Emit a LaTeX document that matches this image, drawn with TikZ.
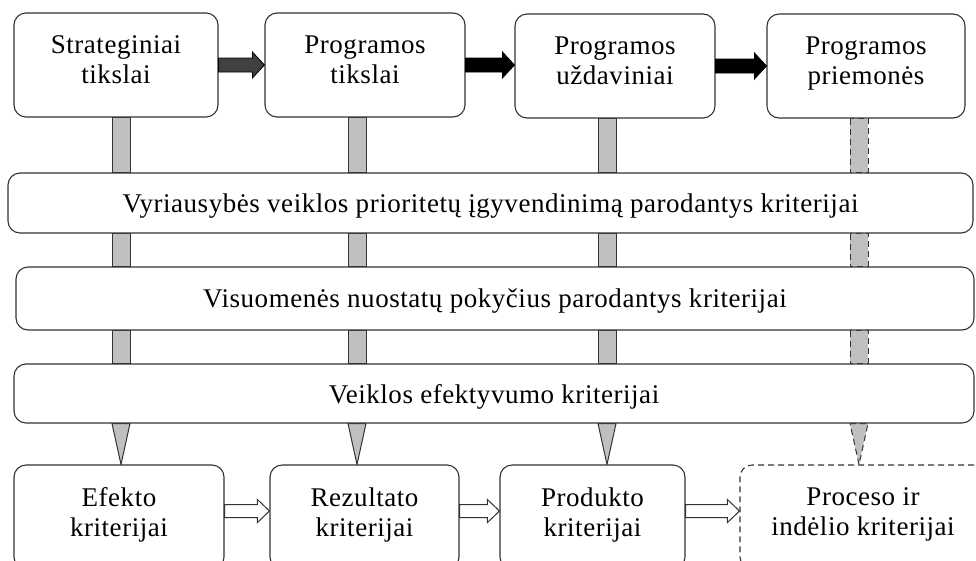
\documentclass[tikz,border=0pt]{standalone}
\usepackage{fontspec}
\setmainfont{Liberation Serif}[LetterSpace=2]
\usepackage{tikz}
\usetikzlibrary{positioning,calc,backgrounds}
\definecolor{barcolor}{RGB}{192,192,192}
\definecolor{edgecolor}{RGB}{51,51,51}

% block arrow: style, start point, target node, half shaft, half head
\newcommand{\blockarrow}[5]{%
    \coordinate (s) at (#2);
    \coordinate (e) at (#3.west |- s);
    \draw[#1] ($(s)+(0,#4)$) -- ($(e)+(-12,#4)$) -- ($(e)+(-12,#5)$) -- (e)
        -- ($(e)+(-12,-#5)$) -- ($(e)+(-12,-#4)$) -- ($(s)+(0,-#4)$) -- cycle;
}

\begin{document}
\begin{tikzpicture}[
    x=1pt, y=-1pt,
    box/.style={draw=edgecolor, line width=1.1pt, rounded corners=12pt, fill=white,
        align=center, minimum height=104pt, inner sep=0pt, text depth=10pt,
        font=\fontsize{27}{30}\selectfont},
    band/.style={box, minimum height=60pt, text depth=0pt},
    bar/.style={draw=edgecolor, line width=1pt, fill=barcolor},
    dbar/.style={bar, dash pattern=on 6pt off 4pt},
    darrow/.style={draw=black, line width=0.8pt, fill=#1},
    harrow/.style={draw=edgecolor, line width=1pt, fill=white}
]
    \clip (0,0) rectangle (976,560);

    % Goal boxes
    \node[box, minimum width=204pt] (t1) at (116,65) {Strateginiai\\tikslai};
    \node[box, minimum width=200pt] (t2) at (365,65) {Programos\\tikslai};
    \node[box, minimum width=200pt] (t3) at (615,66) {Programos\\uždaviniai};
    \node[box, minimum width=198pt] (t4) at (866,66) {Programos\\priemonės};

    % Criteria bands
    \node[band, minimum width=965pt] (b1) at (490.5,203)
        {Vyriausybės veiklos prioritetų įgyvendinimą parodantys kriterijai};
    \node[band, minimum width=958pt, minimum height=63pt] (b2) at (495,298.5)
        {Visuomenės nuostatų pokyčius parodantys kriterijai};
    \node[band, minimum width=960pt, minimum height=59pt] (b3) at (494,393.5)
        {Veiklos efektyvumo kriterijai};

    % Criteria boxes
    \node[box, minimum width=210pt] (k1) at (119,517) {Efekto\\kriterijai};
    \node[box, minimum width=189pt] (k2) at (364.5,517) {Rezultato\\kriterijai};
    \node[box, minimum width=185pt] (k3) at (592.5,517) {Produkto\\kriterijai};
    \node[box, minimum width=246pt, dash pattern=on 6pt off 4pt] (k4) at (863,517)
        {Proceso ir\\indėlio kriterijai};

    % Vertical bars and pointers
    \begin{scope}[on background layer]
    \foreach \c/\t/\k/\s in {121/t1/k1/bar, 357/t2/k2/bar, 607/t3/k3/bar, 859/t4/k4/dbar} {
        \draw[\s] (\c-9,0 |- \t.south) rectangle (\c+9,0 |- b1.north);
        \draw[\s] (\c-9,0 |- b1.south) rectangle (\c+9,0 |- b2.north);
        \draw[\s] (\c-9,0 |- b2.south) rectangle (\c+9,0 |- b3.north);
        \draw[\s] (\c-9,0 |- b3.south) -- (\c+9,0 |- b3.south) -- (\c,0 |- \k.north) -- cycle;
    }
    \end{scope}

    % Top arrows
    \blockarrow{darrow=black!75}{t1.east}{t2}{7}{13}
    \blockarrow{darrow=black}{t2.east}{t3}{7}{13}
    \blockarrow{darrow=black}{t3.east}{t4}{7}{13}

    % Bottom arrows
    \blockarrow{harrow}{$(k1.east)+(0,-6)$}{k2}{6.5}{11.5}
    \blockarrow{harrow}{$(k2.east)+(0,-6)$}{k3}{6.5}{11.5}
    \blockarrow{harrow}{$(k3.east)+(0,-6)$}{k4}{6.5}{11.5}
\end{tikzpicture}
\end{document}
